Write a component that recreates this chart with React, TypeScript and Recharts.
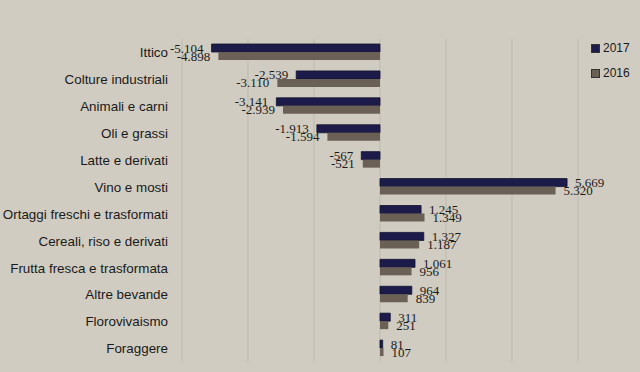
import { BarChart, Bar, XAxis, YAxis, CartesianGrid, LabelList } from 'recharts'

const categorie = [
  'Ittico',
  'Colture industriali',
  'Animali e carni',
  'Oli e grassi',
  'Latte e derivati',
  'Vino e mosti',
  'Ortaggi freschi e trasformati',
  'Cereali, riso e derivati',
  'Frutta fresca e trasformata',
  'Altre bevande',
  'Florovivaismo',
  'Foraggere',
]
const valori2017 = [-5104, -2539, -3141, -1913, -567, 5669, 1245, 1327, 1061, 964, 311, 81]
const valori2016 = [-4898, -3110, -2939, -1594, -521, 5320, 1349, 1187, 956, 839, 251, 107]
const xTicks = [-6000, -4000, -2000, 0, 2000, 4000, 6000]

const data = categorie.map((nome, i) => ({
  nome,
  v2017: valori2017[i],
  v2016: valori2016[i],
}))

const BG = '#d0ccc1'
const COL_2017 = '#1d1b4a'
const COL_2016 = '#6b6056'

const fmt = (v: number) => {
  const s = String(Math.abs(v)).replace(/\B(?=(\d{3})+(?!\d))/g, '.')
  return v < 0 ? `-${s}` : s
}

const ValueLabel = (props: any) => {
  const { x, y, width, height, value } = props
  const left = Math.min(x, x + width)
  const right = Math.max(x, x + width)
  const neg = value < 0
  return (
    <text
      x={neg ? left - 8 : right + 8}
      y={y + height / 2}
      dy="0.35em"
      textAnchor={neg ? 'end' : 'start'}
      fontFamily="'Liberation Serif', 'Times New Roman', serif"
      fontSize={13}
      fill="#1a1a1a"
    >
      {fmt(value)}
    </text>
  )
}

export default function App() {
  return (
    <div
      style={{
        position: 'absolute',
        left: 0,
        top: 0,
        width: 640,
        height: 372,
        background: BG,
        fontFamily: "'Liberation Sans', Arial, sans-serif",
      }}
    >
      <BarChart
        width={640}
        height={372}
        data={data}
        layout="vertical"
        margin={{ top: 39, right: 62, left: 0, bottom: 10 }}
        barSize={8}
        barGap={0}
      >
        <CartesianGrid horizontal={false} stroke="#bdb9ad" />
        <XAxis type="number" domain={[-6000, 6000]} ticks={xTicks} hide />
        <YAxis
          type="category"
          dataKey="nome"
          width={182}
          axisLine={false}
          tickLine={false}
          tickSize={0}
          tickMargin={14}
          interval={0}
          tick={{ fill: '#1a1a1a', fontSize: 13.4 }}
        />
        <Bar dataKey="v2017" fill={COL_2017} stroke="#12112e" strokeWidth={0.8} isAnimationActive={false}>
          <LabelList dataKey="v2017" content={ValueLabel} />
        </Bar>
        <Bar dataKey="v2016" fill={COL_2016} isAnimationActive={false}>
          <LabelList dataKey="v2016" content={ValueLabel} />
        </Bar>
      </BarChart>
      {[
        { nome: '2017', colore: COL_2017, top: 45 },
        { nome: '2016', colore: COL_2016, top: 70 },
      ].map((l) => (
        <div
          key={l.nome}
          style={{ position: 'absolute', left: 591, top: l.top - 4, display: 'flex', alignItems: 'center', fontSize: 12, color: '#1a1a1a' }}
        >
          <span style={{ display: 'inline-block', width: 7, height: 7, background: l.colore, border: '0.5px solid #333', marginRight: 3 }} />
          {l.nome}
        </div>
      ))}
    </div>
  )
}
